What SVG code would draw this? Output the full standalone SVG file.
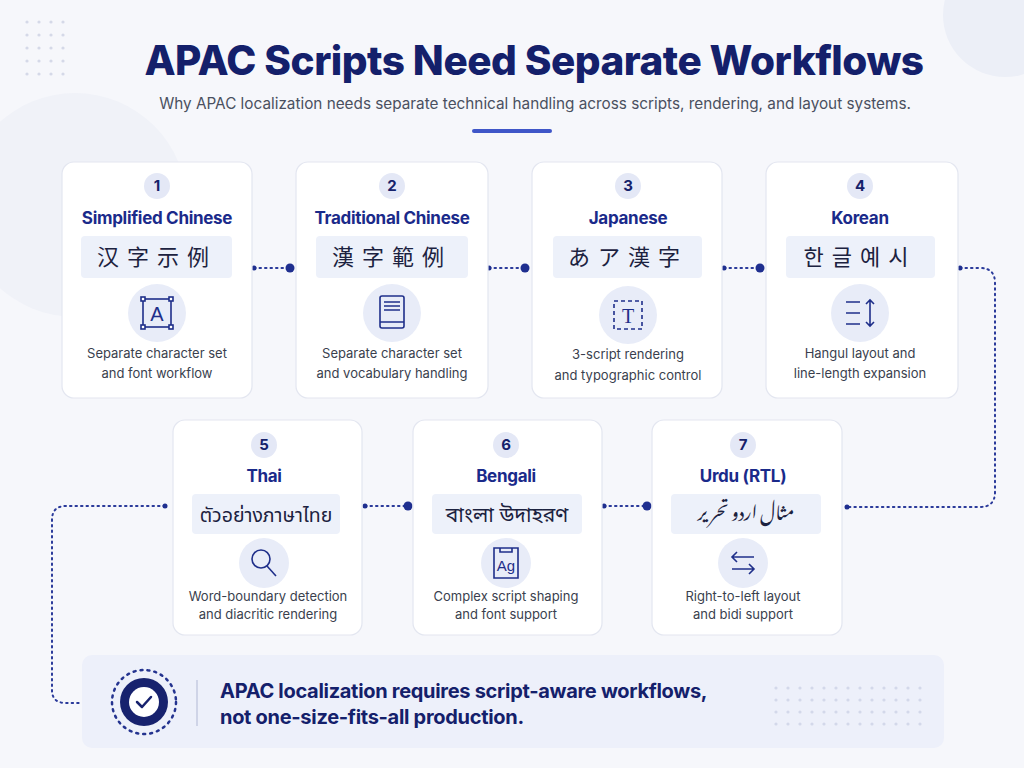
<svg xmlns="http://www.w3.org/2000/svg" width="1024" height="768" viewBox="0 0 1024 768">
<defs>
<style>
.card{fill:#fff;stroke:#e3e6f0;stroke-width:1.2}
.num{fill:#e4e8f6}
.numt{font:bold 15px "Inter","Liberation Sans",sans-serif;fill:#16226b;text-anchor:middle}
.ttl{font:bold 17px "Inter","Liberation Sans",sans-serif;fill:#1a2a8a;text-anchor:middle;letter-spacing:-0.3px}
.sbox{fill:#edf1fa}
.samp{font:22px "Noto Sans CJK SC","Noto Sans",sans-serif;fill:#1c2240;text-anchor:middle}
.ic{fill:#e8ecf8}
.ico{fill:none;stroke:#1f2f8a;stroke-width:1.6}
.desc{font:13px "Inter","Liberation Sans",sans-serif;fill:#3a3f4e;text-anchor:middle}
.con{fill:none;stroke:#2a3a9a;stroke-width:2;stroke-dasharray:1.5 4;stroke-linecap:round}
.dot{fill:#1f2f8f}
</style>
</defs>
<rect width="1024" height="768" fill="#f6f7fb"/>
<circle cx="1005" cy="15" r="62" fill="#eceff7"/>
<circle cx="75" cy="205" r="112" fill="#f0f2f8"/>
<g fill="#d5d9e8">
<circle cx="27" cy="22" r="1.6"/><circle cx="39" cy="22" r="1.6"/><circle cx="51" cy="22" r="1.6"/><circle cx="63" cy="22" r="1.6"/>
<circle cx="27" cy="35" r="1.6"/><circle cx="39" cy="35" r="1.6"/><circle cx="51" cy="35" r="1.6"/><circle cx="63" cy="35" r="1.6"/>
<circle cx="27" cy="48" r="1.6"/><circle cx="39" cy="48" r="1.6"/><circle cx="51" cy="48" r="1.6"/><circle cx="63" cy="48" r="1.6"/>
<circle cx="27" cy="61" r="1.6"/><circle cx="39" cy="61" r="1.6"/><circle cx="51" cy="61" r="1.6"/><circle cx="63" cy="61" r="1.6"/>
<circle cx="27" cy="74" r="1.6"/><circle cx="39" cy="74" r="1.6"/><circle cx="51" cy="74" r="1.6"/><circle cx="63" cy="74" r="1.6"/>
</g>
<text x="534" y="75" text-anchor="middle" font-family="Inter,'Liberation Sans',sans-serif" font-weight="800" font-size="40.5" fill="#14206b" letter-spacing="-0.5">APAC Scripts Need Separate Workflows</text>
<text x="535" y="109" text-anchor="middle" font-family="Inter,'Liberation Sans',sans-serif" font-size="15.3" fill="#4a5060">Why APAC localization needs separate technical handling across scripts, rendering, and layout systems.</text>
<rect x="472" y="129" width="80" height="4" rx="2" fill="#3f56c8"/>

<g id="connectors">
<path class="con" d="M254 268 H290"/>
<path class="con" d="M489 268 H525"/>
<path class="con" d="M724 268 H760"/>
<path class="con" d="M960 268 H980 Q995 268 995 283 V492 Q995 507 980 507 H847"/>
<path class="con" d="M365 506 H408"/>
<path class="con" d="M604 506 H647"/>
<path class="con" d="M165 506 H66 Q52 506 52 520 V690 Q52 703 66 703 H80"/>
<circle class="dot" cx="254" cy="268" r="2.5"/><circle class="dot" cx="290" cy="268" r="4.5"/>
<circle class="dot" cx="489" cy="268" r="2.5"/><circle class="dot" cx="525" cy="268" r="4.5"/>
<circle class="dot" cx="724" cy="268" r="2.5"/><circle class="dot" cx="760" cy="268" r="4.5"/>
<circle class="dot" cx="960" cy="268" r="2.5"/><circle class="dot" cx="847" cy="507" r="2.5"/>
<circle class="dot" cx="365" cy="506" r="2.5"/><circle class="dot" cx="408" cy="506" r="4.5"/>
<circle class="dot" cx="604" cy="506" r="2.5"/><circle class="dot" cx="647" cy="506" r="4.5"/>
<circle class="dot" cx="165" cy="506" r="2.5"/>
</g>

<g id="n1">
<rect class="card" x="62" y="162" width="190" height="236" rx="12"/>
<circle class="num" cx="157" cy="186" r="13"/><text class="numt" x="157" y="191">1</text>
<text class="ttl" x="157" y="224">Simplified Chinese</text>
<rect class="sbox" x="81" y="236" width="151" height="42" rx="4"/>
<text class="samp" x="157" y="265" letter-spacing="8">汉字示例</text>
<circle class="ic" cx="157" cy="313" r="29"/>
<g class="ico"><rect x="143" y="299" width="28" height="28"/><rect x="141" y="297" width="4" height="4" fill="#fff"/><rect x="169" y="297" width="4" height="4" fill="#fff"/><rect x="141" y="325" width="4" height="4" fill="#fff"/><rect x="169" y="325" width="4" height="4" fill="#fff"/></g>
<text x="157" y="321" text-anchor="middle" font-family="'Liberation Sans',sans-serif" font-size="20" fill="#1f2f8a">A</text>
<text class="desc" x="157" y="358">Separate character set</text><text class="desc" x="157" y="378">and font workflow</text>
</g>

<g id="n2">
<rect class="card" x="296" y="162" width="192" height="236" rx="12"/>
<circle class="num" cx="392" cy="186" r="13"/><text class="numt" x="392" y="191">2</text>
<text class="ttl" x="392" y="224">Traditional Chinese</text>
<rect class="sbox" x="316" y="236" width="152" height="42" rx="4"/>
<text class="samp" x="392" y="265" letter-spacing="8" style="font-family:'Noto Sans CJK TC',sans-serif">漢字範例</text>
<circle class="ic" cx="392" cy="313" r="29"/>
<g class="ico"><rect x="380" y="296" width="24" height="32" rx="2"/><path d="M380 322 H404 M384 302 H400 M384 306 H400 M384 310 H400"/></g>
<text class="desc" x="392" y="358">Separate character set</text><text class="desc" x="392" y="378">and vocabulary handling</text>
</g>

<g id="n3">
<rect class="card" x="532" y="162" width="190" height="236" rx="12"/>
<circle class="num" cx="628" cy="186" r="13"/><text class="numt" x="628" y="191">3</text>
<text class="ttl" x="628" y="224">Japanese</text>
<rect class="sbox" x="553" y="236" width="149" height="42" rx="4"/>
<text class="samp" x="628" y="265" letter-spacing="8" style="font-family:'Noto Sans CJK JP',sans-serif">あア漢字</text>
<circle class="ic" cx="628" cy="315" r="29"/>
<g class="ico"><rect x="614" y="301" width="28" height="28" stroke-dasharray="4 3"/></g>
<text x="628" y="323" text-anchor="middle" font-family="'Liberation Serif',serif" font-size="20" fill="#1f2f8a">T</text>
<text class="desc" x="628" y="359">3-script rendering</text><text class="desc" x="628" y="380">and typographic control</text>
</g>

<g id="n4">
<rect class="card" x="766" y="162" width="192" height="236" rx="12"/>
<circle class="num" cx="860" cy="186" r="13"/><text class="numt" x="860" y="191">4</text>
<text class="ttl" x="860" y="224">Korean</text>
<rect class="sbox" x="786" y="236" width="149" height="42" rx="4"/>
<text class="samp" x="860" y="265" letter-spacing="8" style="font-family:'Noto Sans CJK KR',sans-serif">한글예시</text>
<circle class="ic" cx="860" cy="313" r="29"/>
<g class="ico"><path d="M846 302 H860 M846 313 H860 M846 324 H860 M870 300 V326 M866 304 L870 300 L874 304 M866 322 L870 326 L874 322"/></g>
<text class="desc" x="860" y="358">Hangul layout and</text><text class="desc" x="860" y="378">line-length expansion</text>
</g>

<g id="n5">
<rect class="card" x="173" y="420" width="189" height="215" rx="12"/>
<circle class="num" cx="264" cy="445" r="13"/><text class="numt" x="264" y="450">5</text>
<text class="ttl" x="264" y="482">Thai</text>
<rect class="sbox" x="192" y="494" width="148" height="40" rx="4"/>
<text class="samp" x="266" y="522" style="font-size:19.5px;font-family:'Noto Sans Thai','Noto Sans','DejaVu Sans',sans-serif">ตัวอย่างภาษาไทย</text>
<circle class="ic" cx="264" cy="563" r="25"/>
<g class="ico"><circle cx="261" cy="559" r="9"/><path d="M267 566 L276 576"/></g>
<text class="desc" x="268" y="601">Word-boundary detection</text><text class="desc" x="268" y="619">and diacritic rendering</text>
</g>

<g id="n6">
<rect class="card" x="413" y="420" width="189" height="215" rx="12"/>
<circle class="num" cx="506" cy="445" r="13"/><text class="numt" x="506" y="450">6</text>
<text class="ttl" x="506" y="482">Bengali</text>
<rect class="sbox" x="432" y="494" width="150" height="40" rx="4"/>
<text class="samp" x="507" y="522" style="font-size:21px;font-family:'Noto Sans Bengali','Noto Sans','DejaVu Sans',sans-serif">বাংলা উদাহরণ</text>
<circle class="ic" cx="506" cy="563" r="25"/>
<g class="ico"><path d="M494 548 H518 V578 H494 Z M500 548 V552 H512 V548"/></g>
<text x="506" y="571" text-anchor="middle" font-family="'Liberation Sans',sans-serif" font-size="15" fill="#1f2f8a">Ag</text>
<text class="desc" x="506" y="601">Complex script shaping</text><text class="desc" x="506" y="619">and font support</text>
</g>

<g id="n7">
<rect class="card" x="652" y="420" width="190" height="215" rx="12"/>
<circle class="num" cx="743" cy="445" r="13"/><text class="numt" x="743" y="450">7</text>
<text class="ttl" x="743" y="482">Urdu (RTL)</text>
<rect class="sbox" x="671" y="494" width="150" height="40" rx="4"/>
<text class="samp" x="746" y="520" direction="rtl" style="font-size:18px;font-family:'Noto Nastaliq Urdu','Noto Sans Arabic','DejaVu Sans',sans-serif">مثال اردو تحریر</text>
<circle class="ic" cx="743" cy="563" r="25"/>
<g class="ico"><path d="M754 557 H732 M737 552 L732 557 L737 562 M732 569 H754 M749 564 L754 569 L749 574"/></g>
<text class="desc" x="743" y="601">Right-to-left layout</text><text class="desc" x="743" y="619">and bidi support</text>
</g>

<g id="summary">
<rect x="82" y="655" width="862" height="93" rx="10" fill="#edf0fa"/>
<circle cx="144" cy="702" r="32" fill="none" stroke="#24338f" stroke-width="2.5" stroke-dasharray="2 5" stroke-linecap="round"/>
<circle cx="144" cy="702" r="24" fill="#17226e"/>
<circle cx="144" cy="702" r="15" fill="#fff"/>
<path d="M137 702 L142 707 L151 697" fill="none" stroke="#17226e" stroke-width="2.5" stroke-linecap="round" stroke-linejoin="round"/>
<line x1="197" y1="680" x2="197" y2="726" stroke="#c5cbe0" stroke-width="1.5"/>
<text x="220" y="698" font-family="Inter,'Liberation Sans',sans-serif" font-weight="bold" font-size="20" fill="#14206b" letter-spacing="-0.3">APAC localization requires script-aware workflows,</text>
<text x="220" y="724" font-family="Inter,'Liberation Sans',sans-serif" font-weight="bold" font-size="20" fill="#14206b" letter-spacing="-0.3">not one-size-fits-all production.</text>
<g fill="#d3d8ea">
<circle cx="776" cy="688" r="1.6"/><circle cx="788" cy="688" r="1.6"/><circle cx="800" cy="688" r="1.6"/><circle cx="812" cy="688" r="1.6"/><circle cx="824" cy="688" r="1.6"/><circle cx="836" cy="688" r="1.6"/><circle cx="848" cy="688" r="1.6"/><circle cx="860" cy="688" r="1.6"/><circle cx="872" cy="688" r="1.6"/><circle cx="884" cy="688" r="1.6"/><circle cx="896" cy="688" r="1.6"/><circle cx="908" cy="688" r="1.6"/><circle cx="920" cy="688" r="1.6"/>
<circle cx="776" cy="700" r="1.6"/><circle cx="788" cy="700" r="1.6"/><circle cx="800" cy="700" r="1.6"/><circle cx="812" cy="700" r="1.6"/><circle cx="824" cy="700" r="1.6"/><circle cx="836" cy="700" r="1.6"/><circle cx="848" cy="700" r="1.6"/><circle cx="860" cy="700" r="1.6"/><circle cx="872" cy="700" r="1.6"/><circle cx="884" cy="700" r="1.6"/><circle cx="896" cy="700" r="1.6"/><circle cx="908" cy="700" r="1.6"/><circle cx="920" cy="700" r="1.6"/>
<circle cx="776" cy="712" r="1.6"/><circle cx="788" cy="712" r="1.6"/><circle cx="800" cy="712" r="1.6"/><circle cx="812" cy="712" r="1.6"/><circle cx="824" cy="712" r="1.6"/><circle cx="836" cy="712" r="1.6"/><circle cx="848" cy="712" r="1.6"/><circle cx="860" cy="712" r="1.6"/><circle cx="872" cy="712" r="1.6"/><circle cx="884" cy="712" r="1.6"/><circle cx="896" cy="712" r="1.6"/><circle cx="908" cy="712" r="1.6"/><circle cx="920" cy="712" r="1.6"/>
<circle cx="776" cy="724" r="1.6"/><circle cx="788" cy="724" r="1.6"/><circle cx="800" cy="724" r="1.6"/><circle cx="812" cy="724" r="1.6"/><circle cx="824" cy="724" r="1.6"/><circle cx="836" cy="724" r="1.6"/><circle cx="848" cy="724" r="1.6"/><circle cx="860" cy="724" r="1.6"/><circle cx="872" cy="724" r="1.6"/><circle cx="884" cy="724" r="1.6"/><circle cx="896" cy="724" r="1.6"/><circle cx="908" cy="724" r="1.6"/><circle cx="920" cy="724" r="1.6"/>
</g>
</g>
</svg>
